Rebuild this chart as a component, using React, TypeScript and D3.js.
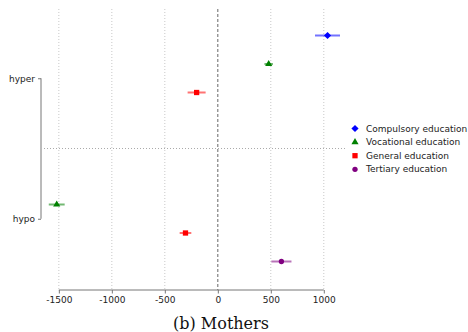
import React, { useEffect, useRef } from "react";
import * as d3 from "d3";

// education levels, top to bottom inside each group
const levels = [
  "Compulsory education",
  "Vocational education",
  "General education",
  "Tertiary education",
];
const groups = ["hyper", "hypo"];
const colors = ["#0000ff", "#008000", "#ff0000", "#800080"];
const markers = ["diamond", "triangle", "square", "circle"];

// estimates and half-widths of the error bars (null = not shown)
const hyperEst = [1035, 480, -200, null];
const hyperErr = [118, 40, 85, null];
const hypoEst = [null, -1520, -305, 600];
const hypoErr = [null, 75, 55, 95];

const xTicks = [-1500, -1000, -500, 0, 500, 1000];
const title = "(b) Mothers";

const W = 468,
  H = 332;

function symbolFor(kind: string) {
  if (kind === "diamond") return d3.symbol(d3.symbolSquare, 26)();
  if (kind === "triangle") return d3.symbol(d3.symbolTriangle, 22)();
  if (kind === "square") return d3.symbol(d3.symbolSquare, 28)();
  return d3.symbol(d3.symbolCircle, 22)();
}

export default function App() {
  const ref = useRef<SVGSVGElement>(null);

  useEffect(() => {
    const svg = d3.select(ref.current);
    svg.selectAll("*").remove();

    const left = 44,
      right = 345,
      top = 8,
      bottom = 289;

    const x = d3.scaleLinear().domain([-1640, 1200]).range([left, right]);
    const yGroup = d3.scalePoint().domain(groups).range([top, bottom]).padding(0.5);
    const yOff = d3.scalePoint().domain(levels).range([-42.75, 42.75]);

    const font = "DejaVu Sans, sans-serif";

    // vertical grid
    svg
      .append("g")
      .selectAll("line")
      .data(xTicks.filter((t) => t !== 0))
      .join("line")
      .attr("x1", (d) => x(d))
      .attr("x2", (d) => x(d))
      .attr("y1", 9)
      .attr("y2", 290)
      .attr("stroke", "#c8c8c8")
      .attr("stroke-width", 1)
      .attr("stroke-dasharray", "1,2");

    // zero line
    svg
      .append("line")
      .attr("x1", x(0))
      .attr("x2", x(0))
      .attr("y1", 9)
      .attr("y2", 290)
      .attr("stroke", "#666")
      .attr("stroke-width", 1)
      .attr("stroke-dasharray", "3,2");

    // separator between groups
    const mid = ((yGroup("hyper") as number) + (yGroup("hypo") as number)) / 2;
    svg
      .append("line")
      .attr("x1", left)
      .attr("x2", right)
      .attr("y1", mid)
      .attr("y2", mid)
      .attr("stroke", "#aaa")
      .attr("stroke-width", 1)
      .attr("stroke-dasharray", "1,2");

    // x axis
    const xa = svg
      .append("g")
      .attr("transform", "translate(0,290)")
      .call(
        d3
          .axisBottom(x)
          .tickValues(xTicks)
          .tickSize(3.5)
          .tickPadding(3)
          .tickFormat((d) => String(d))
      );
    xa.select(".domain").remove();
    xa.append("line")
      .attr("x1", x(xTicks[0]))
      .attr("x2", x(xTicks[xTicks.length - 1]))
      .attr("stroke", "#777");
    xa.selectAll(".tick line").attr("stroke", "#777");
    xa.selectAll(".tick text")
      .attr("font-family", font)
      .attr("font-size", 9)
      .attr("fill", "#222");

    // y axis
    const ya = svg
      .append("g")
      .attr("transform", "translate(41,0)")
      .call(d3.axisLeft(yGroup).tickSize(3).tickPadding(3));
    ya.select(".domain").remove();
    ya.append("line")
      .attr("y1", yGroup(groups[0]) as number)
      .attr("y2", yGroup(groups[groups.length - 1]) as number)
      .attr("stroke", "#777");
    ya.selectAll(".tick line").attr("stroke", "#777");
    ya.selectAll(".tick text")
      .attr("font-family", font)
      .attr("font-size", 9)
      .attr("fill", "#222");

    // points with error bars
    const rows: { g: string; i: number; v: number; e: number }[] = [];
    hyperEst.forEach((v, i) => {
      if (v != null) rows.push({ g: "hyper", i, v, e: hyperErr[i] as number });
    });
    hypoEst.forEach((v, i) => {
      if (v != null) rows.push({ g: "hypo", i, v, e: hypoErr[i] as number });
    });
    const yy = (r: { g: string; i: number }) =>
      (yGroup(r.g) as number) + (yOff(levels[r.i]) as number);

    const pts = svg.append("g");
    pts
      .selectAll("line")
      .data(rows)
      .join("line")
      .attr("x1", (d) => x(d.v - d.e))
      .attr("x2", (d) => x(d.v + d.e))
      .attr("y1", yy)
      .attr("y2", yy)
      .attr("stroke", (d) => colors[d.i])
      .attr("stroke-opacity", 0.55)
      .attr("stroke-width", 2);
    pts
      .selectAll("path")
      .data(rows)
      .join("path")
      .attr("d", (d) => symbolFor(markers[d.i]))
      .attr(
        "transform",
        (d) =>
          `translate(${x(d.v)},${yy(d)})` +
          (markers[d.i] === "diamond" ? " rotate(45)" : "")
      )
      .attr("fill", (d) => colors[d.i]);

    // legend
    const lg = svg.append("g").attr("transform", "translate(355,128.5)");
    const item = lg
      .selectAll("g")
      .data(levels)
      .join("g")
      .attr("transform", (_, i) => `translate(0,${i * 13.6})`);
    item
      .append("path")
      .attr("d", (_, i) => symbolFor(markers[i]))
      .attr("transform", (_, i) => (markers[i] === "diamond" ? "rotate(45)" : ""))
      .attr("fill", (_, i) => colors[i]);
    item
      .append("text")
      .attr("x", 11)
      .attr("dy", "0.35em")
      .attr("font-family", font)
      .attr("font-size", 9)
      .attr("fill", "#222")
      .text((d) => d);

    // caption
    svg
      .append("text")
      .attr("x", 221)
      .attr("y", 329)
      .attr("text-anchor", "middle")
      .attr("font-family", "DejaVu Serif, serif")
      .attr("font-size", 16)
      .attr("fill", "#111")
      .text(title);
  }, []);

  return (
    <svg
      ref={ref}
      width={W}
      height={H}
      style={{ position: "absolute", left: 0, top: 0, background: "#fff" }}
    />
  );
}
